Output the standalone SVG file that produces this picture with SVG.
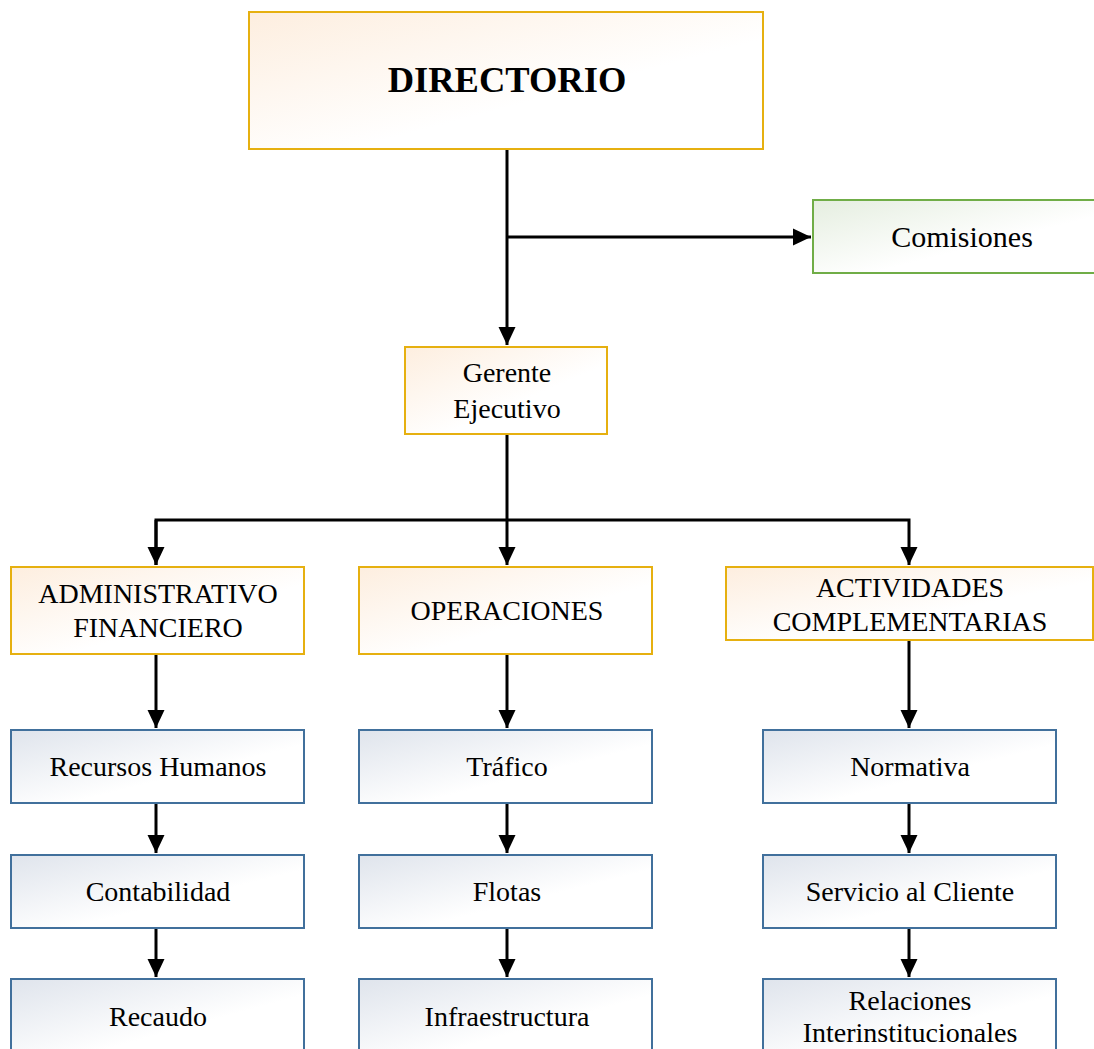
<svg xmlns="http://www.w3.org/2000/svg" width="1094" height="1049" viewBox="0 0 1094 1049">
<style>
text{font-family:"Liberation Serif","Times New Roman",serif;fill:#000;text-anchor:middle}
.o{stroke:#E6B010;stroke-width:2;fill:url(#go)}
.b{stroke:#41709C;stroke-width:2;fill:url(#gb)}
.g{stroke:#70AD47;stroke-width:2;fill:url(#gg)}
.c{stroke:#000;stroke-width:3;fill:none}
</style>
<defs>
<linearGradient id="go" x1="0" y1="0" x2="1" y2="1"><stop offset="0" stop-color="#FDEEDF"/><stop offset="0.6" stop-color="#FFFFFF"/></linearGradient>
<linearGradient id="gb" x1="0" y1="0" x2="1" y2="1"><stop offset="0" stop-color="#DFE4EC"/><stop offset="0.6" stop-color="#FFFFFF"/></linearGradient>
<linearGradient id="gg" x1="0" y1="0" x2="1" y2="1"><stop offset="0" stop-color="#E5EEE0"/><stop offset="0.6" stop-color="#FFFFFF"/></linearGradient>
<marker id="ar" markerUnits="userSpaceOnUse" markerWidth="20" markerHeight="20" viewBox="0 0 20 20" refX="18" refY="10" orient="auto"><path d="M0,1.5 L18,10 L0,18.5 Z" fill="#000"/></marker>
</defs>
<g id="connectors">
<path class="c" d="M507,149 V345" marker-end="url(#ar)"/>
<path class="c" d="M507,237 H811" marker-end="url(#ar)"/>
<path class="c" d="M507,434 V565" marker-end="url(#ar)"/>
<path class="c" d="M156,565 V520 H909 V565" marker-end="url(#ar)"/>
<path class="c" d="M156,520 V565" marker-end="url(#ar)"/>
<path class="c" d="M156,654 V728" marker-end="url(#ar)"/>
<path class="c" d="M507,654 V728" marker-end="url(#ar)"/>
<path class="c" d="M909,640 V728" marker-end="url(#ar)"/>
<path class="c" d="M156,803 V853" marker-end="url(#ar)"/>
<path class="c" d="M507,803 V853" marker-end="url(#ar)"/>
<path class="c" d="M909,803 V853" marker-end="url(#ar)"/>
<path class="c" d="M156,928 V977" marker-end="url(#ar)"/>
<path class="c" d="M507,928 V977" marker-end="url(#ar)"/>
<path class="c" d="M909,928 V977" marker-end="url(#ar)"/>
</g>
<g id="directorio"><rect class="o" x="249" y="12" width="514" height="137"/><text x="507" y="92" font-size="36.5" font-weight="bold">DIRECTORIO</text></g>
<g id="comisiones"><rect class="g" x="813" y="200" width="290" height="73"/><text x="962" y="247" font-size="30">Comisiones</text></g>
<g id="gerente"><rect class="o" x="405" y="347" width="202" height="87"/><text x="507" y="382" font-size="28">Gerente</text><text x="507" y="418" font-size="28">Ejecutivo</text></g>
<g id="administrativo"><rect class="o" x="11" y="567" width="293" height="87"/><text x="158" y="603" font-size="28">ADMINISTRATIVO</text><text x="158" y="637" font-size="28">FINANCIERO</text></g>
<g id="operaciones"><rect class="o" x="359" y="567" width="293" height="87"/><text x="507" y="620" font-size="28">OPERACIONES</text></g>
<g id="actividades"><rect class="o" x="726" y="567" width="367" height="73"/><text x="910" y="597" font-size="28">ACTIVIDADES</text><text x="910" y="631" font-size="28">COMPLEMENTARIAS</text></g>
<g id="recursos"><rect class="b" x="11" y="730" width="293" height="73"/><text x="158" y="776" font-size="28">Recursos Humanos</text></g>
<g id="contabilidad"><rect class="b" x="11" y="855" width="293" height="73"/><text x="158" y="901" font-size="28">Contabilidad</text></g>
<g id="recaudo"><rect class="b" x="11" y="979" width="293" height="80"/><text x="158" y="1026" font-size="28">Recaudo</text></g>
<g id="trafico"><rect class="b" x="359" y="730" width="293" height="73"/><text x="507" y="776" font-size="28">Tráfico</text></g>
<g id="flotas"><rect class="b" x="359" y="855" width="293" height="73"/><text x="507" y="901" font-size="28">Flotas</text></g>
<g id="infraestructura"><rect class="b" x="359" y="979" width="293" height="80"/><text x="507" y="1026" font-size="28">Infraestructura</text></g>
<g id="normativa"><rect class="b" x="763" y="730" width="293" height="73"/><text x="910" y="776" font-size="28">Normativa</text></g>
<g id="servicio"><rect class="b" x="763" y="855" width="293" height="73"/><text x="910" y="901" font-size="28">Servicio al Cliente</text></g>
<g id="relaciones"><rect class="b" x="763" y="979" width="293" height="80"/><text x="910" y="1010" font-size="28">Relaciones</text><text x="910" y="1042" font-size="28">Interinstitucionales</text></g>
</svg>
